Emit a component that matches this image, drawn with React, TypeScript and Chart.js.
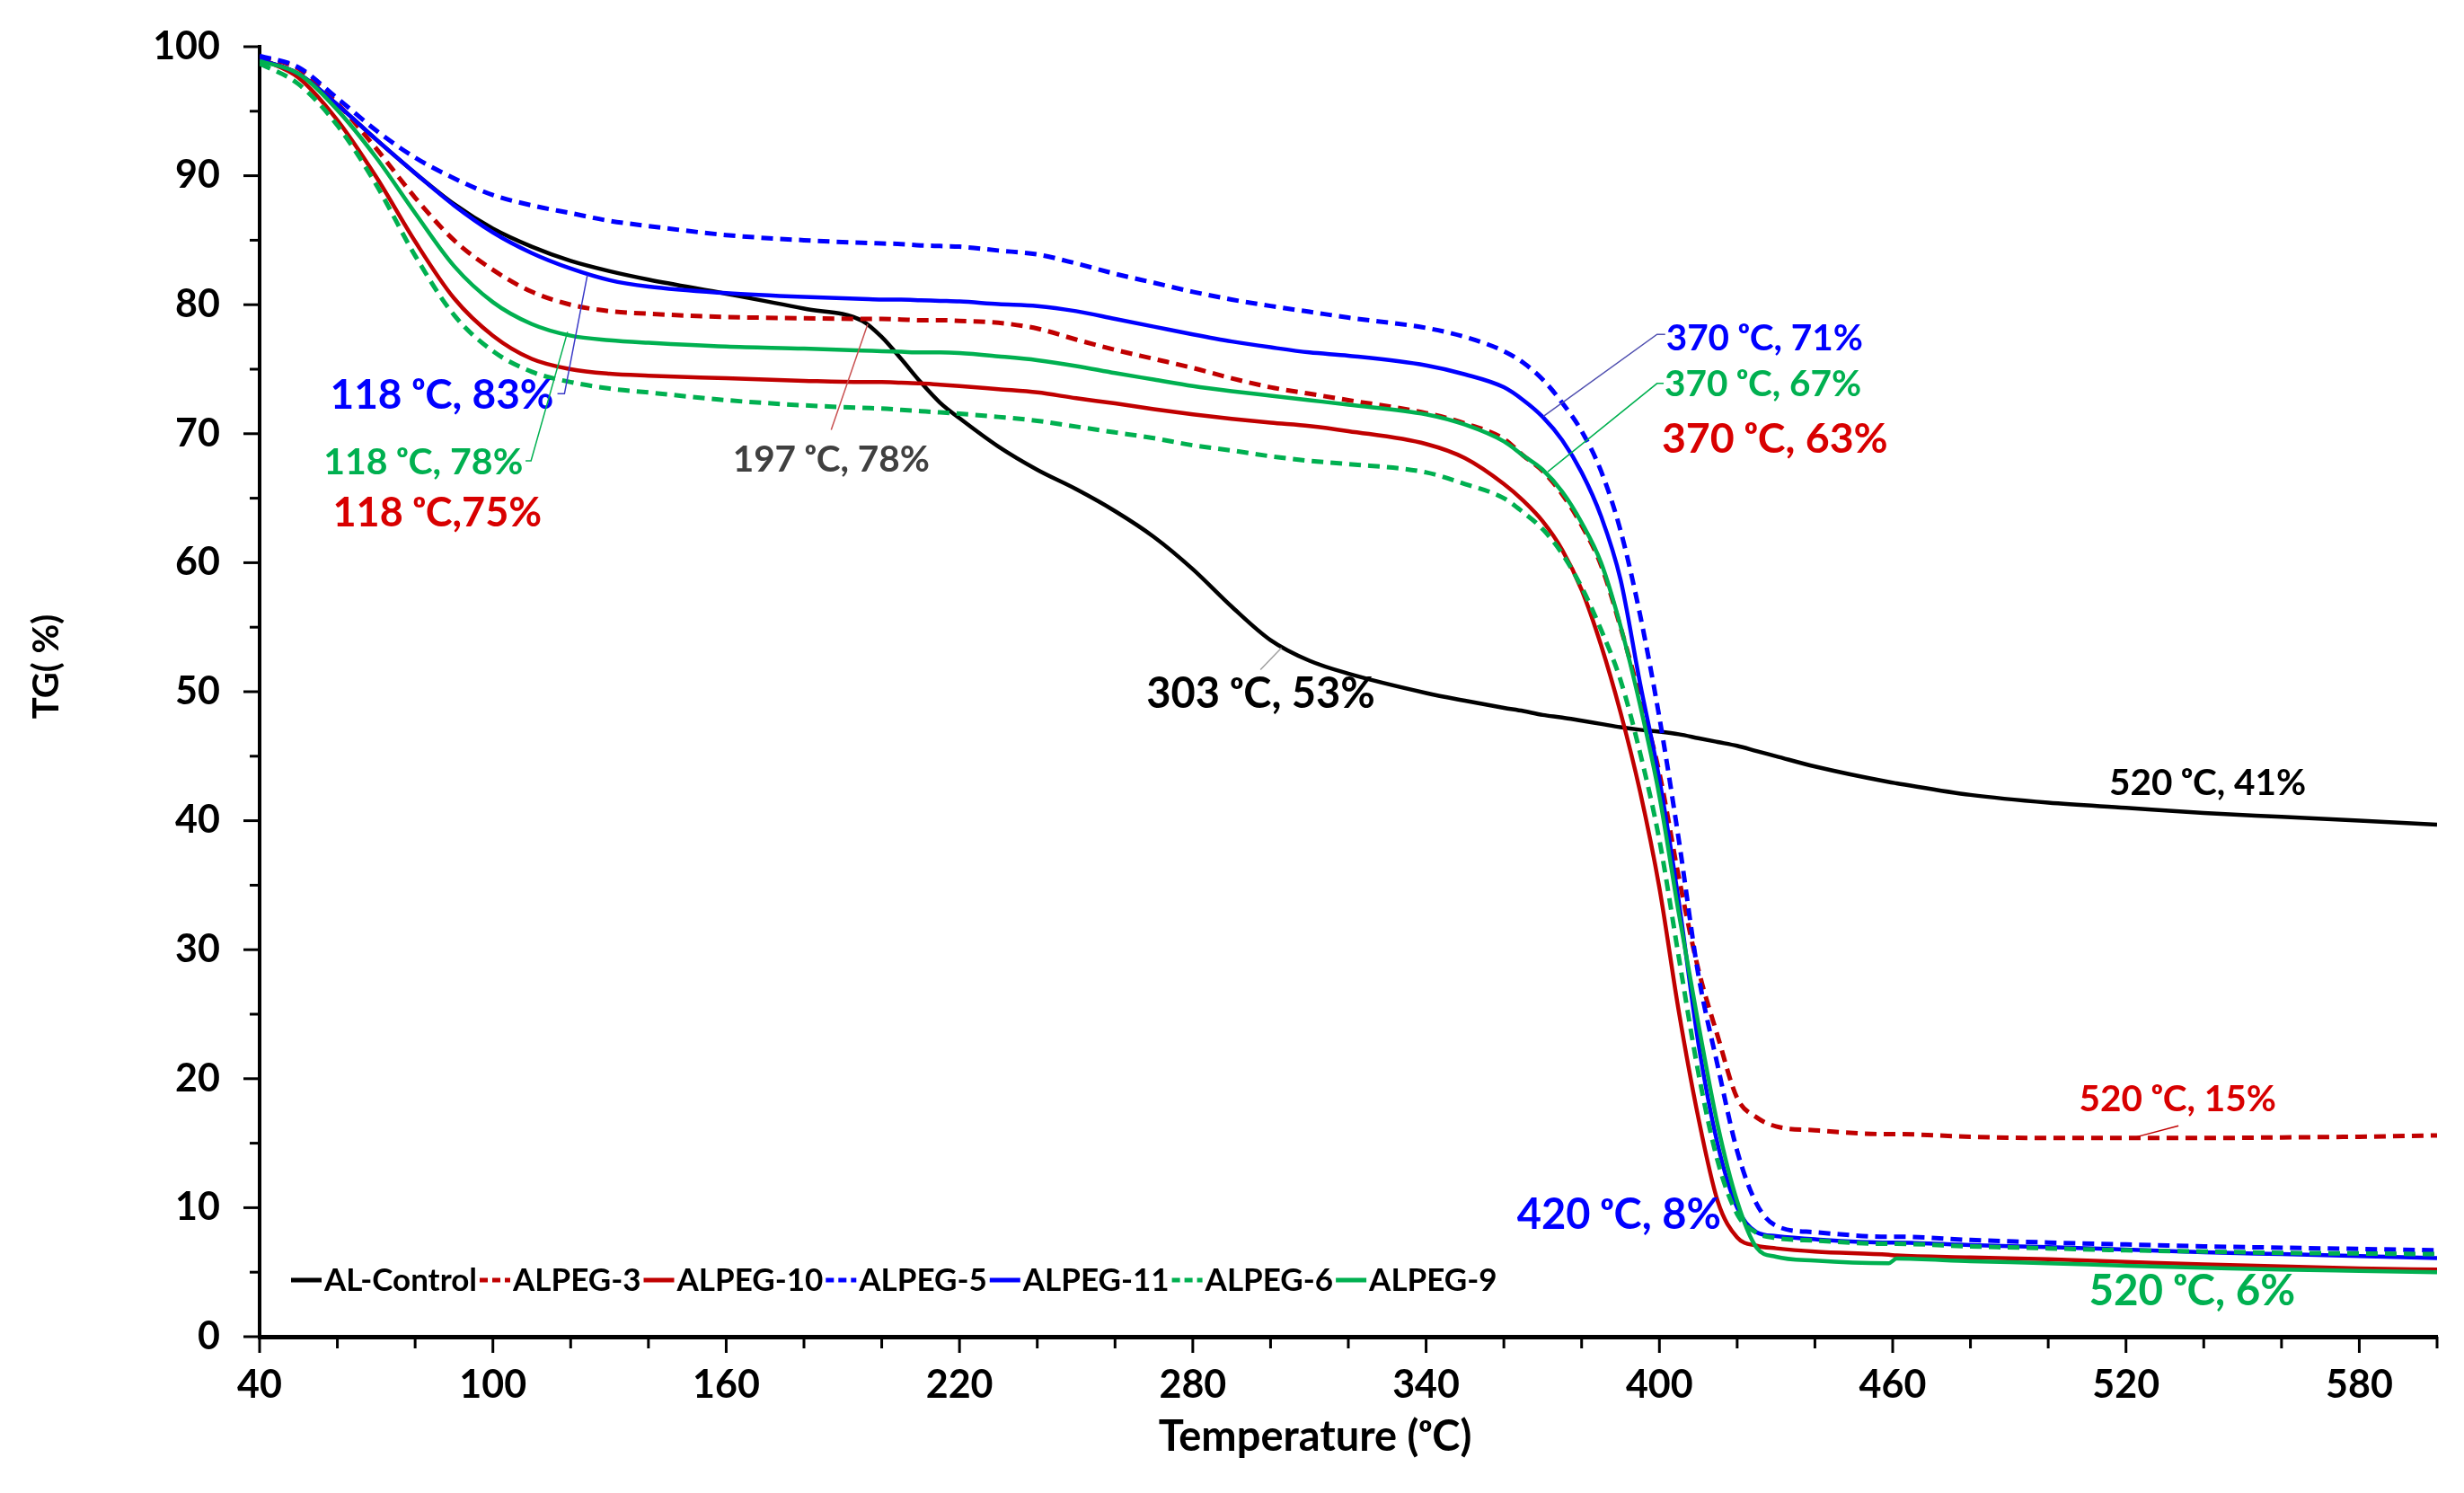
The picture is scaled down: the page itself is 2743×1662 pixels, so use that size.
import React, { useEffect, useRef } from "react";
import { Chart, registerables } from "chart.js";

Chart.register(...registerables);

// temperature grid (°C) shared by every TG curve
const temperatures = [
  40, 50, 60, 70, 80, 90, 100, 110, 120, 130,
  140, 160, 180, 195, 200, 205, 210, 215, 220, 230,
  240, 250, 260, 270, 280, 290, 300, 310, 320, 340,
  350, 360, 365, 370, 375, 380, 385, 390, 395, 400,
  405, 410, 415, 420, 425, 430, 440, 459, 461, 480,
  500, 520, 540, 560, 580, 600,
];

// TG (%)
const alControl = [
  99.0, 97.9, 95.5, 92.8, 90.2, 87.8, 85.9, 84.5, 83.4, 82.6,
  81.95, 80.85, 79.7, 78.75, 77.5, 75.8, 74.0, 72.4, 71.2, 69.0,
  67.2, 65.7, 64.0, 62.0, 59.5, 56.6, 54.0, 52.4, 51.4, 49.9,
  49.3, 48.75, 48.5, 48.2, 48.0, 47.75, 47.5, 47.25, 47.05, 46.9,
  46.7, 46.4, 46.1, 45.8, 45.4, 45.0, 44.2, 43.0, 42.9, 42.0,
  41.4, 41.0, 40.6, 40.3, 40.0, 39.7,
];
const alpeg3 = [
  99.2, 98.3, 95.6, 92.1, 88.3, 85.0, 82.7, 81.0, 80.0, 79.5,
  79.3, 79.05, 78.95, 78.9, 78.9, 78.85, 78.8, 78.8, 78.75, 78.6,
  78.15, 77.3, 76.5, 75.8, 75.1, 74.3, 73.6, 73.1, 72.6, 71.6,
  70.8, 69.6, 68.3, 67.1, 65.3, 62.9, 59.8, 55.0, 49.6, 43.7,
  35.6, 28.5, 23.3, 18.5, 17.0, 16.3, 16.0, 15.7, 15.7, 15.5,
  15.4, 15.4, 15.4, 15.45, 15.5, 15.6,
];
const alpeg10 = [
  99.1, 97.6, 94.3, 89.9, 84.9, 80.5, 77.6, 75.8, 75.0, 74.65,
  74.5, 74.3, 74.1, 74.0, 74.0, 73.95, 73.9, 73.8, 73.7, 73.45,
  73.2, 72.75, 72.35, 71.9, 71.5, 71.15, 70.85, 70.6, 70.2, 69.2,
  68.1, 66.1, 64.8, 63.2, 61.0, 57.9, 53.6, 48.4, 42.3, 34.8,
  25.2, 17.0, 10.5, 7.7, 7.05, 6.85, 6.6, 6.35, 6.3, 6.15,
  6.0, 5.8, 5.6, 5.45, 5.3, 5.2,
];
const alpeg5 = [
  99.3, 98.4, 96.0, 93.5, 91.4, 89.8, 88.5, 87.7, 87.1, 86.5,
  86.1, 85.4, 85.0, 84.8, 84.75, 84.7, 84.6, 84.55, 84.5, 84.2,
  83.9, 83.2, 82.4, 81.7, 81.0, 80.4, 79.9, 79.45, 79.0, 78.2,
  77.5, 76.4, 75.5, 74.2, 72.4, 70.2, 67.1, 62.5, 56.0, 48.0,
  38.5, 28.1, 21.0, 14.4, 10.3, 8.6, 8.1, 7.75, 7.75, 7.5,
  7.3, 7.15, 7.0, 6.9, 6.8, 6.7,
];
const alpeg11 = [
  99.0, 97.9, 95.5, 92.8, 90.2, 87.7, 85.6, 84.0, 82.8, 81.9,
  81.4, 80.9, 80.6, 80.45, 80.4, 80.4, 80.35, 80.3, 80.25, 80.05,
  79.9, 79.5, 78.9, 78.3, 77.7, 77.15, 76.7, 76.3, 76.05, 75.3,
  74.6, 73.6, 72.6, 71.3, 69.5, 67.0, 63.6, 58.7, 50.7, 43.2,
  33.7, 22.8, 14.9, 10.0, 8.1, 7.8, 7.55, 7.3, 7.3, 7.1,
  6.95, 6.75, 6.55, 6.4, 6.25, 6.1,
];
const alpeg6 = [
  98.7, 97.1, 93.9, 89.3, 83.8, 79.2, 76.4, 74.8, 74.0, 73.5,
  73.2, 72.6, 72.2, 72.0, 71.95, 71.85, 71.75, 71.65, 71.55, 71.3,
  71.0, 70.55, 70.1, 69.65, 69.1, 68.7, 68.25, 67.9, 67.65, 67.0,
  66.1, 65.0, 63.9, 62.6, 60.7, 58.1, 54.8, 50.9, 45.3, 38.5,
  29.4, 20.5, 13.6, 9.5, 8.05, 7.65, 7.45, 7.2, 7.2, 7.0,
  6.85, 6.7, 6.6, 6.5, 6.45, 6.4,
];
const alpeg9 = [
  98.9, 97.9, 95.1, 91.4, 87.1, 83.0, 80.2, 78.5, 77.6, 77.25,
  77.05, 76.75, 76.6, 76.45, 76.4, 76.35, 76.3, 76.3, 76.25, 76.0,
  75.7, 75.25, 74.7, 74.2, 73.7, 73.3, 72.95, 72.6, 72.25, 71.5,
  70.7, 69.4, 68.3, 67.2, 65.5, 63.1, 60.0, 55.1, 49.0, 41.9,
  32.8, 24.3, 16.4, 10.5, 6.9, 6.2, 5.9, 5.7, 6.05, 5.85,
  5.7, 5.5, 5.35, 5.2, 5.1, 5.0,
];

const seriesNames = ["AL-Control", "ALPEG-3", "ALPEG-10", "ALPEG-5", "ALPEG-11", "ALPEG-6", "ALPEG-9"];
const seriesValues = [alControl, alpeg3, alpeg10, alpeg5, alpeg11, alpeg6, alpeg9];

const xTickLabels = [40, 100, 160, 220, 280, 340, 400, 460, 520, 580];
const yTickLabels = [0, 10, 20, 30, 40, 50, 60, 70, 80, 90, 100];

const BLACK = "#000000";
const RED = "#C00000";
const RED_TEXT = "#D80000";
const BLUE = "#0000FF";
const GREEN = "#00B050";
const FONT = "Lato, 'DejaVu Sans', sans-serif";
const HIDDEN = "rgba(0,0,0,0)";

const seriesColors = [BLACK, RED, RED, BLUE, BLUE, GREEN, GREEN];
const seriesDashed = [false, true, false, true, false, true, false];

// text labels placed on the plot, anchored in data units
const callouts = [
  { text: "118 ᵒC, 83%", x: 86.9, y: 73.0, align: "center", color: BLUE, size: 46, leader: [[116.6, 73.1], [118.4, 73.1], [124.3, 82.3]], leaderColor: "#3a3ac8" },
  { text: "118 ᵒC, 78%", x: 82.1, y: 67.8, align: "center", color: GREEN, size: 41, leader: [[108.4, 67.9], [109.8, 67.9], [119.2, 77.9]], leaderColor: GREEN },
  { text: "118 ᵒC,75%", x: 85.7, y: 63.8, align: "center", color: RED_TEXT, size: 45 },
  { text: "197 ᵒC, 78%", x: 187.0, y: 68.0, align: "center", color: "#404040", size: 40.5, leader: [[187.0, 70.3], [196.4, 78.5]], leaderColor: "#c85050" },
  { text: "303 ᵒC, 53%", x: 297.5, y: 49.8, align: "center", color: BLACK, size: 47, leader: [[297.4, 51.7], [302.8, 53.4]], leaderColor: "#a0a0a0" },
  { text: "370 ᵒC, 71%", x: 401.7, y: 77.4, align: "left", color: BLUE, size: 40.5, leader: [[401.5, 77.7], [399.4, 77.7], [370.2, 71.35]], leaderColor: "#5050b0" },
  { text: "370 ᵒC, 67%", x: 401.3, y: 73.8, align: "left", color: GREEN, size: 40.5, leader: [[401.1, 73.9], [399.4, 73.9], [371.3, 67.05]], leaderColor: GREEN },
  { text: "370 ᵒC, 63%", x: 400.6, y: 69.6, align: "left", color: RED_TEXT, size: 46.5 },
  { text: "420 ᵒC, 8%", x: 389.6, y: 9.4, align: "center", color: BLUE, size: 47 },
  { text: "520 ᵒC, 41%", x: 541.0, y: 42.9, align: "center", color: BLACK, size: 40.5 },
  { text: "520 ᵒC, 15%", x: 533.3, y: 18.4, align: "center", color: RED_TEXT, size: 40.5, leader: [[533.5, 16.35], [521.6, 15.4]], leaderColor: RED },
  { text: "520 ᵒC, 6%", x: 537.0, y: 3.5, align: "center", color: GREEN, size: 47.5 },
];

// outward tick marks (long at labelled values) and both axis titles
const axisDecorPlugin = {
  id: "axisDecor",
  afterDraw(chart: any) {
    const { ctx, chartArea, scales } = chart;
    const xs = scales.x;
    const ys = scales.y;
    ctx.save();
    ctx.strokeStyle = BLACK;
    ctx.lineWidth = 3;
    ys.ticks.forEach((t: any) => {
      const py = ys.getPixelForValue(t.value);
      const len = yTickLabels.includes(t.value) ? 18 : 11;
      ctx.beginPath();
      ctx.moveTo(chartArea.left - len, py);
      ctx.lineTo(chartArea.left, py);
      ctx.stroke();
    });
    xs.ticks.forEach((t: any) => {
      const px = xs.getPixelForValue(t.value);
      const len = xTickLabels.includes(t.value) ? 18 : 13;
      ctx.beginPath();
      ctx.moveTo(px, chartArea.bottom);
      ctx.lineTo(px, chartArea.bottom + len);
      ctx.stroke();
    });
    ctx.fillStyle = BLACK;
    ctx.textAlign = "center";
    ctx.textBaseline = "middle";
    // titles sit slightly off the plot centre in the original
    ctx.font = `bold 47px ${FONT}`;
    ctx.fillText("Temperature (ᵒC)", 1464, 1600);
    ctx.translate(52, 742);
    ctx.rotate(-Math.PI / 2);
    ctx.font = `bold 40px ${FONT}`;
    ctx.fillText("TG( %)", 0, 0);
    ctx.restore();
  },
};

const calloutsPlugin = {
  id: "callouts",
  afterDatasetsDraw(chart: any) {
    const { ctx, scales } = chart;
    const xs = scales.x;
    const ys = scales.y;
    ctx.save();
    callouts.forEach((c) => {
      if (c.leader) {
        ctx.strokeStyle = c.leaderColor;
        ctx.lineWidth = 1.5;
        ctx.setLineDash([]);
        ctx.beginPath();
        c.leader.forEach(([lx, ly], i) => {
          const px = xs.getPixelForValue(lx);
          const py = ys.getPixelForValue(ly);
          if (i === 0) ctx.moveTo(px, py);
          else ctx.lineTo(px, py);
        });
        ctx.stroke();
      }
      ctx.font = `bold ${c.size}px ${FONT}`;
      ctx.fillStyle = c.color;
      ctx.textAlign = c.align;
      ctx.textBaseline = "middle";
      ctx.fillText(c.text, xs.getPixelForValue(c.x), ys.getPixelForValue(c.y));
    });
    ctx.restore();
  },
};

// legend row inside the plot, bottom left
const inlineLegendPlugin = {
  id: "inlineLegend",
  afterDraw(chart: any) {
    const { ctx, chartArea } = chart;
    const y = chartArea.bottom - 63;
    let x = chartArea.left + 35;
    ctx.save();
    ctx.font = `bold 35px ${FONT}`;
    ctx.textBaseline = "middle";
    ctx.textAlign = "left";
    chart.data.datasets.forEach((ds: any) => {
      ctx.strokeStyle = ds.borderColor;
      ctx.lineWidth = 5;
      ctx.setLineDash(ds.borderDash && ds.borderDash.length ? [9, 5] : []);
      ctx.beginPath();
      ctx.moveTo(x, y);
      ctx.lineTo(x + 34, y);
      ctx.stroke();
      x += 37;
      ctx.fillStyle = BLACK;
      ctx.fillText(ds.label, x, y + 1);
      x += ctx.measureText(ds.label).width + 3;
    });
    ctx.restore();
  },
};

const App: React.FC = () => {
  const canvasRef = useRef<HTMLCanvasElement | null>(null);

  useEffect(() => {
    document.body.style.margin = "0";
    if (!canvasRef.current) return;

    const n = seriesValues.length;
    const datasets = seriesValues.map((vals, i) => ({
      label: seriesNames[i],
      data: temperatures.map((t, j) => ({ x: t, y: vals[j] })),
      borderColor: seriesColors[i],
      backgroundColor: seriesColors[i],
      borderWidth: seriesDashed[i] ? 5 : 4.5,
      borderDash: seriesDashed[i] ? [13, 8] : [],
      pointRadius: 0,
      cubicInterpolationMode: "monotone" as const,
      fill: false,
      order: n - 1 - i,
    }));

    const chart = new Chart(canvasRef.current, {
      type: "line",
      data: { datasets },
      options: {
        animation: false,
        responsive: true,
        maintainAspectRatio: false,
        layout: { padding: { top: 52, right: 30, left: 0, bottom: 0 } },
        plugins: {
          legend: { display: false },
          tooltip: { enabled: false },
        },
        scales: {
          x: {
            type: "linear",
            min: 40,
            max: 600,
            afterFit: (s: any) => {
              s.height = 174;
            },
            grid: { display: true, drawOnChartArea: false, drawTicks: true, tickLength: 18, tickColor: HIDDEN, color: HIDDEN },
            border: { display: true, color: BLACK, width: 5 },
            ticks: {
              stepSize: 20,
              autoSkip: false,
              maxRotation: 0,
              minRotation: 0,
              padding: 10,
              color: BLACK,
              font: { family: FONT, size: 43, weight: "bold" },
              callback: (v: any) => (xTickLabels.includes(Number(v)) ? String(v) : ""),
            },
            title: { display: false },
          },
          y: {
            min: 0,
            max: 100,
            afterFit: (s: any) => {
              s.width = 289;
            },
            grid: { display: true, drawOnChartArea: false, drawTicks: true, tickLength: 30, tickColor: HIDDEN, color: HIDDEN },
            border: { display: true, color: BLACK, width: 4 },
            ticks: {
              stepSize: 5,
              autoSkip: false,
              padding: 14,
              color: BLACK,
              font: { family: FONT, size: 43, weight: "bold" },
              callback: (v: any) => (yTickLabels.includes(Number(v)) ? String(v) : ""),
            },
            title: { display: false },
          },
        },
      },
      plugins: [axisDecorPlugin, calloutsPlugin, inlineLegendPlugin],
    });

    return () => {
      chart.destroy();
    };
  }, []);

  return (
    <div style={{ width: "2743px", height: "1662px", position: "relative", background: "#ffffff" }}>
      <canvas ref={canvasRef}></canvas>
    </div>
  );
};

export default App;
